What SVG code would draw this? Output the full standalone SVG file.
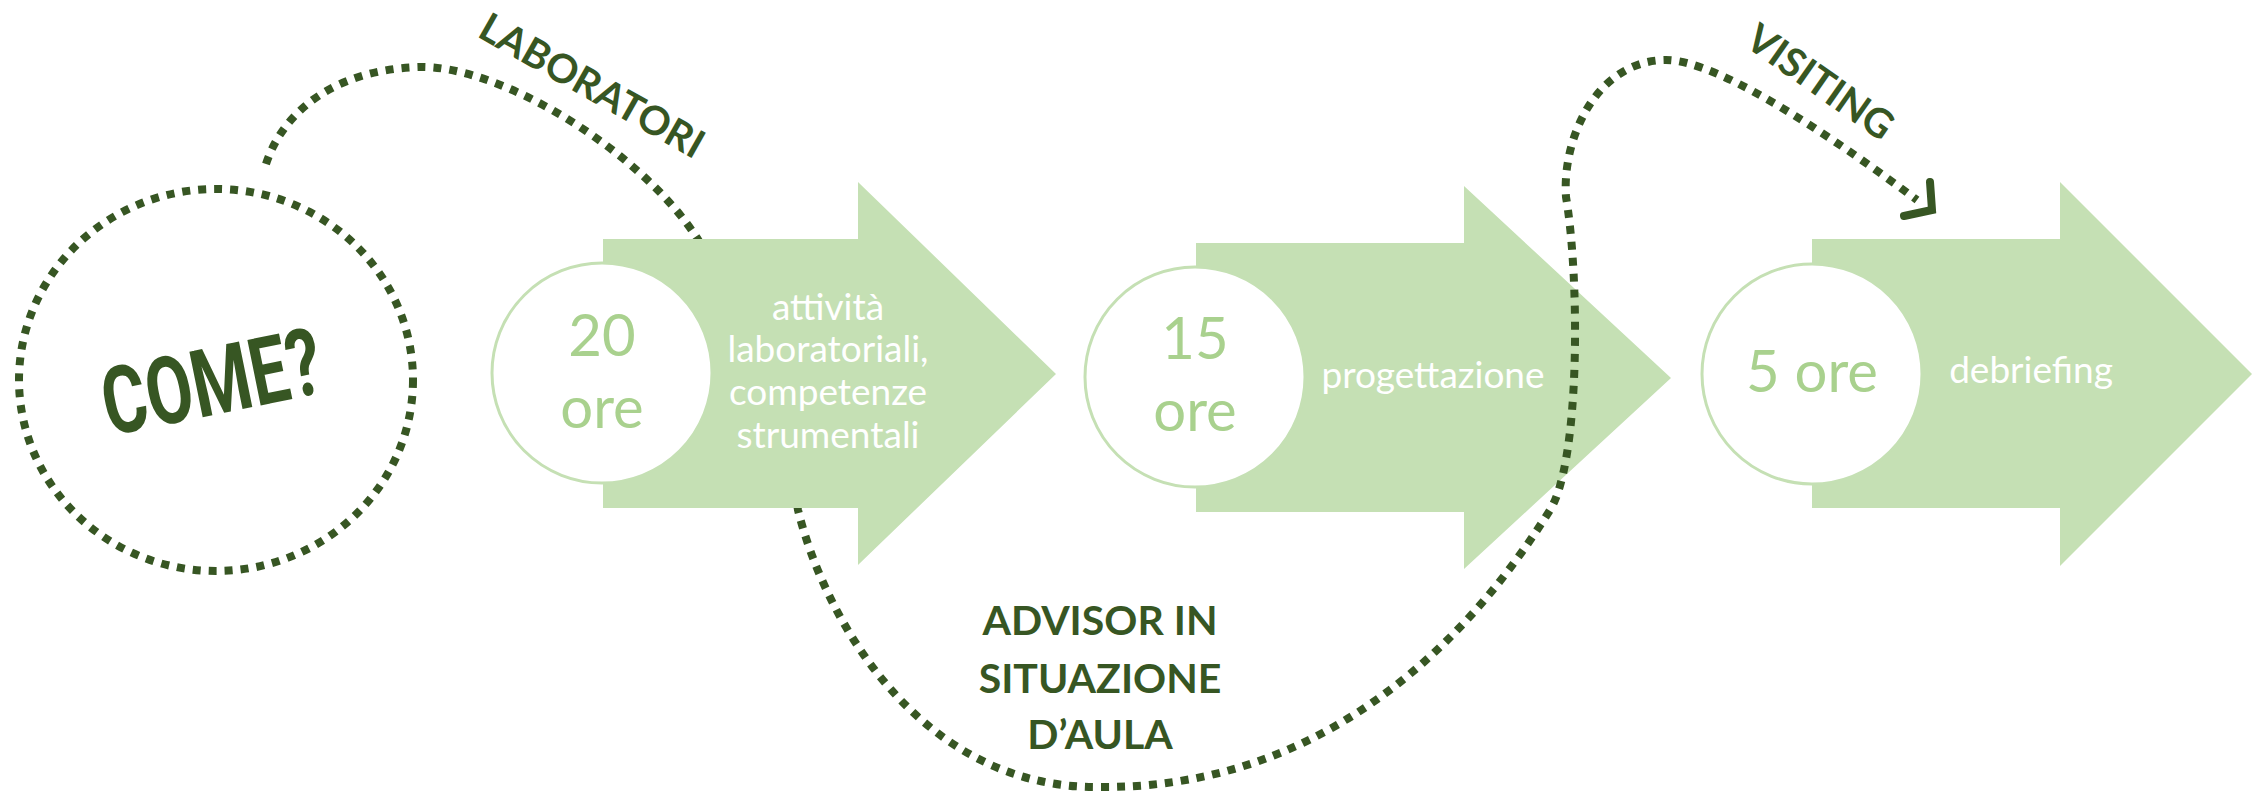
<svg xmlns="http://www.w3.org/2000/svg" width="2262" height="791" viewBox="0 0 2262 791">
<style>
.dots{fill:none;stroke:#375623;stroke-width:8;stroke-dasharray:8 8}
.arrow{fill:#C5E0B4}
.disc{fill:#FFFFFF;stroke:#C5E0B4;stroke-width:3}
.num{font-family:Lato,"Open Sans",sans-serif;font-size:58px;fill:#A9D18E;text-anchor:middle}
.desc{font-family:Lato,"Open Sans",sans-serif;font-size:37px;fill:#FFFFFF;text-anchor:middle}
.lbl{font-family:Lato,"Open Sans",sans-serif;font-weight:700;font-size:40px;fill:#375623}
.adv{font-family:Lato,"Open Sans",sans-serif;font-weight:700;font-size:41px;fill:#375623;text-anchor:middle}
.come{font-family:Roboto,"Liberation Sans",sans-serif;font-weight:700;font-size:94px;fill:#375623;text-anchor:middle}
</style>
<rect width="2262" height="791" fill="#FFFFFF"/>
<g id="node-come">
<ellipse class="dots" cx="216" cy="380" rx="197" ry="191"/>
<text class="come" transform="translate(218,414) rotate(-11.5) scale(0.72,1)" x="0" y="0">COME?</text>
</g>
<g id="node-15-ore">
<polygon class="arrow" points="1196,243 1464,243 1464,186 1671,378 1464,569 1464,512 1196,512"/>
<circle class="disc" cx="1195" cy="377" r="110"/>
<text class="num" x="1195" y="359">15</text>
<text class="num" x="1195" y="431">ore</text>
<text class="desc" x="1433" y="388">progettazione</text>
</g>
<g id="node-5-ore">
<polygon class="arrow" points="1812,239 2060,239 2060,182 2252,374 2060,566 2060,508 1812,508"/>
<circle class="disc" cx="1812" cy="374" r="110"/>
<text class="num" x="1812" y="392">5 ore</text>
<text class="desc" x="2031" y="383">debriefing</text>
</g>
<g id="connectors">
<path class="dots" d="M266,164 C282,115 330,70 419,67 C500,65 640,150 697,238 C727,284 790,460 798,510 C825,620 920,787 1096,787 C1300,790 1450,670 1550,510 C1580,462 1580,280 1566,197 C1562,140 1595,62 1664,60 C1720,58 1850,150 1917,200"/>
<path d="M1930,182 L1932,210 L1904,216" fill="none" stroke="#375623" stroke-width="8" stroke-linecap="round"/>
<text class="lbl" transform="translate(476,36) rotate(29.5)">LABORATORI</text>
<text class="lbl" transform="translate(1743,45) rotate(35)">VISITING</text>
<text class="adv" x="1100" y="635">ADVISOR IN</text>
<text class="adv" x="1100" y="693">SITUAZIONE</text>
<text class="adv" x="1100" y="749">D’AULA</text>
</g>
<g id="node-20-ore">
<polygon class="arrow" points="603,239 858,239 858,182 1056,374 858,565 858,508 603,508"/>
<circle class="disc" cx="602" cy="373" r="110"/>
<text class="num" x="602" y="356">20</text>
<text class="num" x="602" y="428">ore</text>
<text class="desc" x="828" y="320">attività</text>
<text class="desc" x="828" y="362">laboratoriali,</text>
<text class="desc" x="828" y="405">competenze</text>
<text class="desc" x="828" y="448">strumentali</text>
</g>
</svg>
